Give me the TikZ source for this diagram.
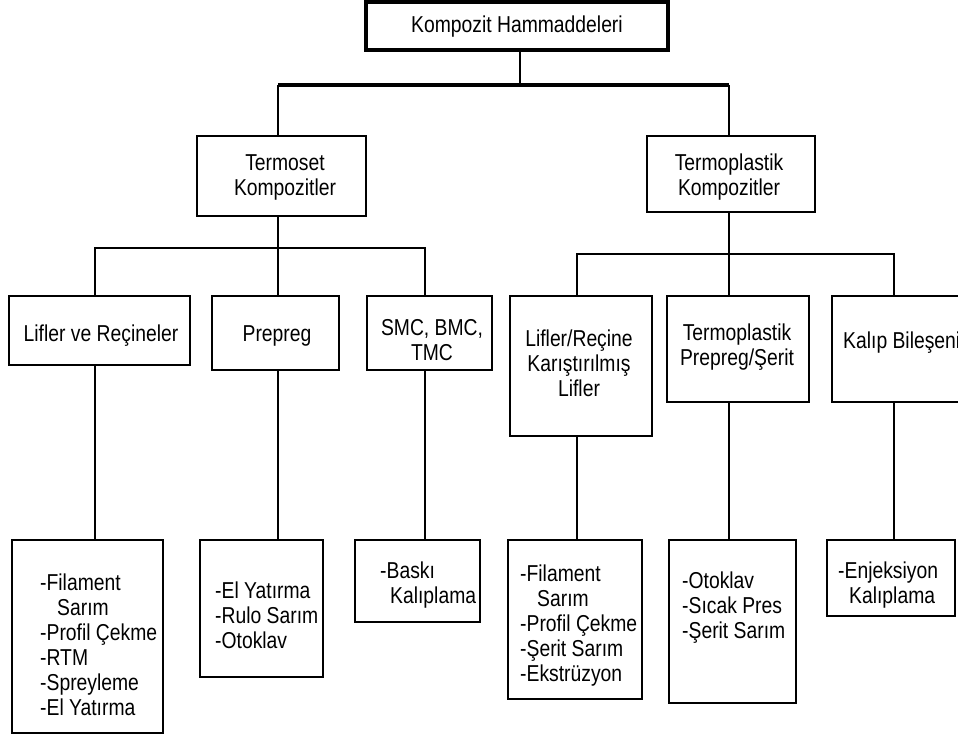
\documentclass[tikz,border=0pt]{standalone}
\usepackage{fontspec}
\setmainfont[FakeStretch=0.84]{Liberation Sans}
\begin{document}
\begin{tikzpicture}[x=1pt,y=-1pt,
  box/.style={draw, line width=1.4pt, rectangle, inner sep=0pt},
  topbox/.style={box, line width=3.4pt},
  conn/.style={line width=1.4pt},
  bus/.style={line width=4pt},
  lbl/.style={font=\fontsize{23}{25}\selectfont, inner sep=0pt, align=center},
  list/.style={font=\fontsize{23}{25}\selectfont, inner sep=0pt, align=left, anchor=north west},
]
\fill[white] (0,0) rectangle (958,738);
\clip (0,0) rectangle (958,738);

% ---- boxes ----
\node[topbox, minimum width=302, minimum height=48] (top)   at (517,26) {};
\node[box, minimum width=169, minimum height=80]  (tset)  at (281.5,176) {};
\node[box, minimum width=168, minimum height=76]  (tplas) at (731,174) {};

\node[box, minimum width=181, minimum height=69]  (A) at (99.5,330.5) {};
\node[box, minimum width=127, minimum height=74]  (B) at (275.5,333) {};
\node[box, minimum width=125, minimum height=74]  (C) at (429.5,333) {};
\node[box, minimum width=142, minimum height=140] (D) at (581,366) {};
\node[box, minimum width=142, minimum height=106] (E) at (738,349) {};
\node[box, minimum width=140, minimum height=106] (F) at (902,349) {};

\node[box, minimum width=151, minimum height=193] (a) at (87.5,636.5) {};
\node[box, minimum width=123, minimum height=137] (b) at (261.5,608.5) {};
\node[box, minimum width=125, minimum height=82]  (c) at (417.5,581) {};
\node[box, minimum width=134, minimum height=159] (d) at (575,619.5) {};
\node[box, minimum width=127, minimum height=163] (e) at (732.5,621.5) {};
\node[box, minimum width=128, minimum height=76]  (f) at (891,578) {};

% ---- connector columns and bus levels ----
\coordinate (hub)   at (520,85);
\coordinate (busL)  at (0,248);
\coordinate (busR)  at (0,254);
\coordinate (colTS) at (278,0);
\coordinate (colTP) at (729,0);
\coordinate (colA)  at (95,0);
\coordinate (colB)  at (278,0);
\coordinate (colC)  at (425,0);
\coordinate (colD)  at (577,0);
\coordinate (colE)  at (729,0);
\coordinate (colF)  at (894,0);

% ---- connectors ----
\draw[conn] (top.south -| hub) -- (hub);
\draw[bus]  (hub -| colTS) -- (hub -| colTP);
\draw[conn] (hub -| colTS) -- (tset.north -| colTS);
\draw[conn] (hub -| colTP) -- (tplas.north -| colTP);

\draw[conn] (tset.south -| colB) -- (B.north -| colB);
\draw[conn] (A.north -| colA) |- (busL -| colC) -- (C.north -| colC);

\draw[conn] (tplas.south -| colE) -- (E.north -| colE);
\draw[conn] (D.north -| colD) |- (busR -| colF) -- (F.north -| colF);

\draw[conn] (A.south -| colA) -- (a.north -| colA);
\draw[conn] (B.south -| colB) -- (b.north -| colB);
\draw[conn] (C.south -| colC) -- (c.north -| colC);
\draw[conn] (D.south -| colD) -- (d.north -| colD);
\draw[conn] (E.south -| colE) -- (e.north -| colE);
\draw[conn] (F.south -| colF) -- (f.north -| colF);

% ---- labels ----
\node[lbl, anchor=base]  (top-t)   at (517,33)  {Kompozit Hammaddeleri};
\node[lbl, anchor=north] (tset-t)  at (285,154) {Termoset\\Kompozitler};
\node[lbl, anchor=north] (tplas-t) at (729,154) {Termoplastik\\Kompozitler};

\node[lbl, anchor=base]  (A-t) at (101,341) {Lifler ve Reçineler};
\node[lbl, anchor=base]  (B-t) at (277,341) {Prepreg};
\node[lbl, anchor=north] (C-t) at (432,319) {SMC, BMC,\\TMC};
\node[lbl, anchor=north] (D-t) at (579,330) {Lifler/Reçine\\Karıştırılmış\\Lifler};
\node[lbl, anchor=north] (E-t) at (737,324) {Termoplastik\\Prepreg/Şerit};
\node[lbl, anchor=base west] (F-t) at (843,348) {Kalıp Bileşeni};

\node[list] (a-t) at (40,574)  {-Filament\\\hspace*{17pt}Sarım\\-Profil Çekme\\-RTM\\-Spreyleme\\-El Yatırma};
\node[list] (b-t) at (215,582) {-El Yatırma\\-Rulo Sarım\\-Otoklav};
\node[list] (c-t) at (380,562) {-Baskı\\\hspace*{10pt}Kalıplama};
\node[list] (d-t) at (520,565) {-Filament\\\hspace*{17pt}Sarım\\-Profil Çekme\\-Şerit Sarım\\-Ekstrüzyon};
\node[list] (e-t) at (682,572) {-Otoklav\\-Sıcak Pres\\-Şerit Sarım};
\node[list] (f-t) at (838,562) {-Enjeksiyon\\\hspace*{11pt}Kalıplama};
\end{tikzpicture}
\end{document}
